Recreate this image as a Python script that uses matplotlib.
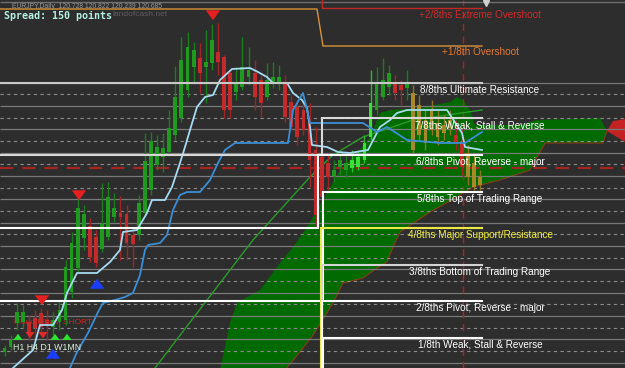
import numpy as np
import matplotlib.pyplot as plt

# chart is laid out in screen rows (y grows downwards), bars every ~6.1 px
bar_x0, bar_dx = 4.5, 6.1
bar_open = [352, 347, 323, 322, 322, 318, 313, 320, 327, 322,
            320, 292, 268, 238, 226, 237, 249, 237, 217, 213,
            214, 235, 235, 213, 190, 165, 157, 152, 135, 118,
            90, 67, 58, 67, 63, 52, 57, 73, 92, 87,
            77, 73, 80, 97, 83, 82, 83, 102, 107, 110,
            123, 150, 157, 163, 176, 167, 170, 168, 167, 160,
            137, 110, 97, 87, 83, 85, 88, 93, 105, 120,
            110, 123, 125, 120, 135, 143, 153, 163, 177]
bar_close = [348, 340, 312, 312, 332, 328, 327, 325, 320, 310,
             267, 243, 208, 214, 257, 263, 224, 197, 208, 217,
             243, 244, 203, 161, 141, 147, 148, 128, 97, 60,
             47, 50, 73, 62, 40, 62, 110, 110, 82, 67,
             70, 97, 103, 80, 77, 77, 117, 127, 137, 130,
             160, 215, 197, 177, 170, 160, 163, 160, 157, 143,
             103, 83, 80, 73, 93, 90, 83, 150, 135, 143,
             130, 137, 133, 128, 143, 167, 177, 187, 185]
bar_high = [345, 335, 303, 305, 315, 310, 308, 310, 312, 300,
            260, 232, 198, 205, 218, 230, 183, 182, 193, 196,
            205, 228, 195, 133, 132, 135, 133, 110, 66, 37,
            32, 42, 43, 30, 24, 23, 55, 70, 67, 37,
            47, 60, 75, 63, 62, 65, 75, 95, 100, 100,
            103, 127, 150, 155, 160, 150, 155, 150, 150, 135,
            70, 67, 58, 65, 75, 80, 70, 85, 95, 110,
            100, 110, 115, 110, 120, 130, 145, 155, 170]
bar_low = [356, 350, 330, 328, 340, 338, 335, 340, 335, 330,
           325, 298, 272, 250, 262, 267, 252, 240, 222, 260,
           260, 267, 240, 216, 195, 170, 172, 156, 140, 122,
           97, 83, 93, 103, 70, 75, 118, 118, 100, 90,
           85, 110, 117, 100, 88, 90, 122, 130, 145, 135,
           187, 228, 215, 190, 182, 175, 178, 172, 170, 163,
           140, 115, 100, 95, 100, 105, 100, 155, 140, 150,
           135, 145, 140, 135, 150, 175, 185, 190, 190]
bar_kind = 'n' * 57 + 'l' * 4 + 'n' * 6 + 'o' * 7 + 'n' * 2 + 'o' * 3

tenkan_x = [13, 33, 40, 53, 62, 67, 77, 97, 110, 120, 123, 137, 147, 152, 165, 172, 180, 185, 190,
            197, 205, 213, 220, 232, 250, 258, 267, 273, 287, 293, 302, 307, 310, 312, 327, 338,
            350, 368, 380, 390, 397, 407, 447, 462, 465, 482]
tenkan_y = [368, 350, 325, 325, 310, 293, 273, 273, 262, 250, 232, 230, 213, 200, 200, 187, 163, 147, 130,
            107, 97, 95, 80, 69, 68, 72, 77, 83, 83, 93, 100, 108, 127, 145, 147, 152,
            153, 150, 127, 120, 113, 110, 110, 133, 147, 150]
kijun_x = [70, 77, 88, 98, 103, 115, 125, 133, 140, 145, 148, 160, 167, 173, 180, 187, 200, 210, 218,
           225, 235, 288, 293, 303, 307, 310, 363, 377, 387, 407, 440, 465, 482]
kijun_y = [368, 352, 333, 312, 303, 300, 297, 293, 275, 250, 245, 243, 235, 210, 195, 192, 192, 180, 163,
           150, 143, 143, 110, 93, 110, 123, 123, 132, 127, 140, 143, 143, 132]
ma_x = [155, 253, 310, 333, 363, 413, 482]
ma_y = [368, 240, 177, 155, 137, 120, 110]

cloud_top_x = [220, 230, 237, 247, 260, 277, 293, 307, 317, 327, 340, 357, 370, 380, 390, 420, 450,
               457, 463, 470, 475, 520, 537, 600, 607]
cloud_top_y = [370, 323, 303, 297, 290, 267, 247, 227, 210, 193, 170, 153, 137, 113, 110, 108, 102,
               97, 100, 110, 125, 125, 120, 118, 131]
cloud_bot_x = [285, 300, 313, 333, 343, 363, 377, 387, 393, 400, 430, 457, 473, 500, 530, 540, 545, 603, 607]
cloud_bot_y = [370, 352, 335, 303, 283, 278, 268, 262, 247, 232, 212, 197, 187, 180, 170, 152, 143, 143, 131]
red_cloud_x = [607, 613, 625, 625, 617]
red_cloud_y = [131, 121, 119, 142, 137]

grid_solid = [82.7, 105.9, 129.3, 152.6, 176.0, 199.3, 222.6, 246.0, 269.3, 292.6, 316.0, 339.3, 362.6]
grid_dash = [94.3, 117.6, 141.0, 164.3, 187.6, 211.0, 234.3, 257.6, 281.0, 304.3, 327.6, 351.0]
pivot_row = 167.7
now_x = 463

level_names = ['8/8ths Ultimate Resistance', '7/8ths Weak, Stall & Reverse', '6/8ths Pivot, Reverse - major',
               '5/8ths Top of Trading Range', '4/8ths Major Support/Resistance',
               '3/8ths Bottom of Trading Range', '2/8ths Pivot, Reverse - major', '1/8th Weak, Stall & Reverse']
level_old = [82.7, 155, 228, 301, 380, 380, 380, 380]
level_new = [82.7, 118.3, 155, 192.3, 228.3, 265, 301, 337.7]
level_switch = [320, 322, 318, 323, 321, 322, 322, 323]
over_names = ['+2/8ths Extreme Overshoot', '+1/8th Overshoot']
over_old = [-5, 9]
over_new = [8, 46]

down_arrows_x = [42, 79, 213]
down_arrows_y = [302, 197, 17]
up_blue_x = [53, 97]
up_blue_y = [352, 282]
tf_up_x = [18, 55, 67]
tf_down_x = [30, 43]

bg = '#2d2d2d'
fig = plt.figure(figsize=(6.25, 3.68), dpi=100, facecolor=bg)
ax = fig.add_axes([0, 0, 1, 1], facecolor=bg)
ax.set_xlim(0, 625)
ax.set_ylim(368, 0)
ax.axis('off')

# ichimoku cloud
ax.fill(cloud_top_x + cloud_bot_x[::-1], cloud_top_y + cloud_bot_y[::-1], color='#016b01', lw=0, zorder=1)
ax.plot(cloud_bot_x, cloud_bot_y, color='#8a3c14', lw=0.8, zorder=1.5)
ax.fill(red_cloud_x, red_cloud_y, color='#c42222', lw=0, zorder=1)

# grid rows
ax.hlines(grid_solid, 0, 625, colors='#7a7a7a', lw=0.9, zorder=2)
ax.hlines(grid_dash, 0, 625, colors='#8c8c8c', lw=0.8, linestyles=(0, (3, 3)), zorder=2)
ax.axhline(pivot_row, color='#a42424', lw=1.6, dashes=(6, 4), zorder=2)
ax.axvline(now_x, color='#b02222', lw=1, dashes=(5, 4), zorder=2)
ax.hlines(2, 0, 625, colors='#6e6e6e', lw=1, zorder=2)

ax.plot(ma_x, ma_y, color='#2a9a2a', lw=1, zorder=3)

# candles
xs = bar_x0 + bar_dx * np.arange(len(bar_open))
for x, o, c, h, l, k in zip(xs, bar_open, bar_close, bar_high, bar_low, bar_kind):
    up = c < o
    if k == 'l':
        body, wick = '#38e038', '#2cb82c'
    elif k == 'o':
        body, wick = '#a8892a', '#8c7424'
    elif up:
        body, wick = '#1f9a1f', '#1b7d1b'
    else:
        body, wick = '#c42a2a', '#a02424'
    ax.vlines(x, h, l, colors=wick, lw=1, zorder=4)
    ax.bar(x, max(abs(o - c), 1.2), bottom=min(o, c), width=3.8, color=body, lw=0, zorder=4.1)

ax.plot(tenkan_x, tenkan_y, color='#a6daf2', lw=1.3, zorder=5)
ax.plot(kijun_x, kijun_y, color='#3b8ed6', lw=1.3, zorder=5)

# murrey levels
lev_cols = ['#c8c8c8', '#d8d8d8', '#ffffff', '#ffffff', '#e8e84a', '#d4d4d4', '#ffffff', '#ffffff']
txt_cols = ['#ffffff', '#ffffff', '#ffffff', '#ffffff', '#f0f040', '#ffffff', '#ffffff', '#ffffff']
for name, a, b, sx, lc, tc in zip(level_names, level_old, level_new, level_switch, lev_cols, txt_cols):
    ax.plot([0, sx, sx, 482], [a, a, b, b], color=lc, lw=1.5, zorder=6, solid_joinstyle='miter')
    ax.text(480, b + 7, name, color=tc, fontsize=7.2, family='Liberation Sans',
            ha='center', va='center', zorder=7)

ax.plot([322, 322, 482], [over_old[0], over_new[0], over_new[0]], color='#c02828', lw=1, zorder=6)
ax.plot([0, 317, 323, 482], [over_old[1], over_old[1], over_new[1], over_new[1]], color='#d8923a', lw=1, zorder=6)
ax.text(480, 15, over_names[0], color='#d02a2a', fontsize=7.2, family='Liberation Sans', ha='center', va='center')
ax.text(480, 52, over_names[1], color='#e47a32', fontsize=7.2, family='Liberation Sans', ha='center', va='center')
ax.plot([486], [3], marker='v', color='#d0d0d0', ms=4, zorder=7)

# signal arrows
big = 'simple,head_width=0.8,head_length=0.55,tail_width=0.32'
for x, y in zip(down_arrows_x, down_arrows_y):
    ax.annotate('', xy=(x, y + 6), xytext=(x, y - 6), zorder=8,
                arrowprops=dict(arrowstyle=big, color='#e42020', lw=0, mutation_scale=13))
for x, y in zip(up_blue_x, up_blue_y):
    ax.annotate('', xy=(x, y - 6), xytext=(x, y + 6), zorder=8,
                arrowprops=dict(arrowstyle=big, color='#1c3cff', lw=0, mutation_scale=13))
small = 'simple,head_width=0.75,head_length=0.5,tail_width=0.28'
for x in tf_up_x:
    ax.annotate('', xy=(x, 331), xytext=(x, 341), zorder=8,
                arrowprops=dict(arrowstyle=small, color='#30e030', lw=0, mutation_scale=9))
for x in tf_down_x:
    ax.annotate('', xy=(x, 341), xytext=(x, 331), zorder=8,
                arrowprops=dict(arrowstyle=small, color='#e02828', lw=0, mutation_scale=9))

ax.text(14, 322, 'Market Bias: SHORT', color='#d02424', fontsize=6, family='Liberation Sans',
        va='center', zorder=3.5)
ax.text(13, 347, 'H1 H4 D1 W1MN', color='#d8f0d8', fontsize=6.3, family='Liberation Sans',
        va='center', zorder=8)

# header texts
ax.text(12, 6, 'EURJPY,Daily  120.728 120.822 120.239 120.685', color='#9a9a9a', fontsize=4.9,
        family='Liberation Sans', va='center', zorder=8)
ax.text(112, 15, 'landofcash.net', color='#5c5c5c', fontsize=6,
        family='Liberation Sans', va='center', zorder=8)
ax.text(4, 16, 'Spread: 150 points', color='#b4f0e0', fontsize=7.2, family='DejaVu Sans Mono',
        fontweight='bold', va='center', zorder=9)

fig.savefig('out.png', dpi=100, facecolor=bg)
